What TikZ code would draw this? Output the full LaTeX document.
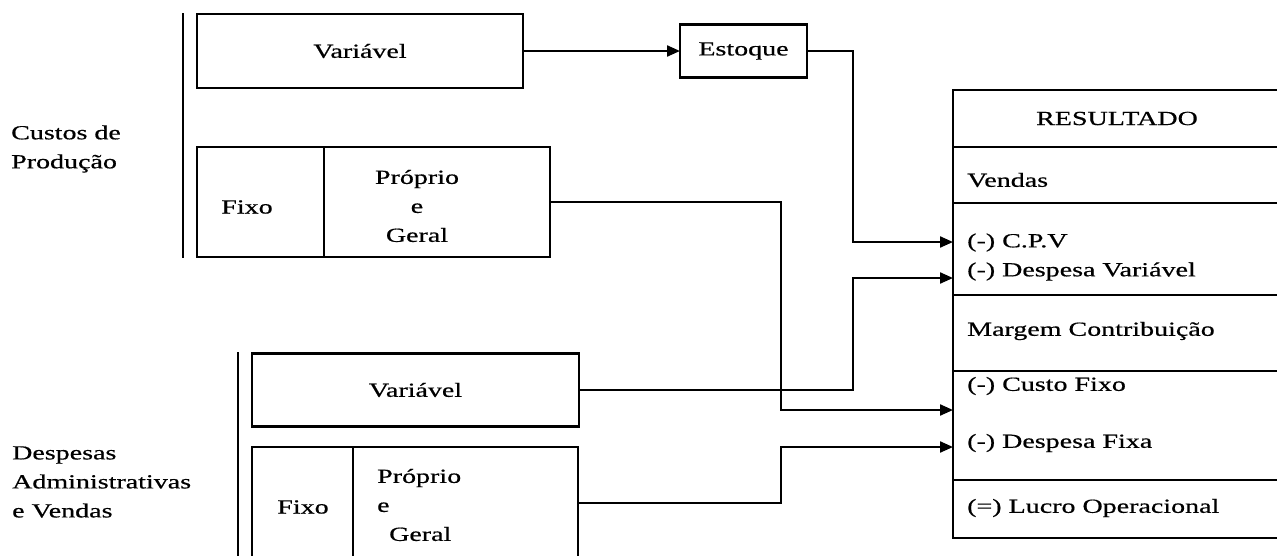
\documentclass[tikz,border=0pt]{standalone}
\usepackage{fontspec}
\setmainfont{Liberation Serif}[FakeStretch=1.4,FakeBold=0.6]
\usetikzlibrary{arrows.meta}
\tikzset{
  box/.style={draw, line width=2.2pt, minimum width=#1, inner sep=0pt, outer sep=0pt},
  txt/.style={font=\fontsize{20}{29}\selectfont, inner sep=0pt},
  conn/.style={line width=2.2pt},
  arr/.style={line width=2.2pt, -{Triangle[length=13pt,width=11pt]}},
}
\begin{document}
\begin{tikzpicture}[x=1pt,y=-1pt]
\useasboundingbox[fill=white] (0,0) rectangle (1277,555);

% left labels
\node[txt, anchor=west, align=left] (lblA) at (11,149) {Custos de\\Produção};
\node[txt, anchor=west, align=left] (lblB) at (12,482) {Despesas\\Administrativas\\e Vendas};

% bracket lines
\draw[conn] (183,13) -- (183,258);
\draw[conn] (238,352) -- (238,562);

% upper group
\node[box=326pt, minimum height=74pt, txt] (varA) at (360,51) {Variável};
\node[box=127pt, minimum height=53pt, txt] (estoque) at (743.5,51) {Estoque};
\node[box=127pt, minimum height=110pt] (fixoA) at (260.5,202) {};
\node[box=226pt, minimum height=110pt] (propA) at (437,202) {};
\node[txt] (fixoAt) at (247,207) {Fixo};
\node[txt, align=center] (propAt) at (417,206) {Próprio\\e\\Geral};

% lower group
\node[box=327pt, minimum height=73pt, txt] (varB) at (415.5,390) {Variável};
\node[box=101pt, minimum height=116pt] (fixoB) at (302.5,505) {};
\node[box=225pt, minimum height=116pt] (propB) at (465.5,505) {};
\node[txt] (fixoBt) at (303,507) {Fixo};
\node[txt, anchor=west, align=left] (propBt) at (377,505) {Próprio\\e\\\hspace*{12pt}Geral};

% result table
\node[box=328pt, minimum height=57pt, txt] (res0) at (1117,118.5) {RESULTADO};
\node[box=328pt, minimum height=56pt] (res1) at (1117,175) {};
\node[box=328pt, minimum height=92pt] (res2) at (1117,249) {};
\node[box=328pt, minimum height=76pt] (res3) at (1117,333) {};
\node[box=328pt, minimum height=109pt] (res4) at (1117,425.5) {};
\node[box=328pt, minimum height=58pt] (res5) at (1117,509) {};
\node[txt, anchor=west] (t1) at (967,180) {Vendas};
\node[txt, anchor=west, align=left] (t2) at (967,257) {(-) C.P.V\\(-) Despesa Variável};
\node[txt, anchor=west] (t3) at (967,331) {Margem Contribuição};
\node[txt, anchor=west] (t4a) at (967,386) {(-) Custo Fixo};
\node[txt, anchor=west] (t4b) at (967,443) {(-) Despesa Fixa};
\node[txt, anchor=west] (t5) at (967,508) {(=) Lucro Operacional};

% arrow targets on the left edge of the table
\coordinate (tCPV) at (953,242);
\coordinate (tDV) at (953,278);
\coordinate (tCF) at (953,410);
\coordinate (tDF) at (953,447);
\coordinate (oB) at (578,503);

% connectors
\draw[arr] (varA.east) -- (estoque.west);
\draw[arr] (estoque.east) -- (853,51) -- (853,242) -- (tCPV);
\draw[arr] (propA.east) -- (781,202) -- (781,410) -- (tCF);
\draw[arr] (varB.east) -- (853,390) -- (853,278) -- (tDV);
\draw[arr] (oB) -- (781,503) -- (781,447) -- (tDF);
\end{tikzpicture}
\end{document}
